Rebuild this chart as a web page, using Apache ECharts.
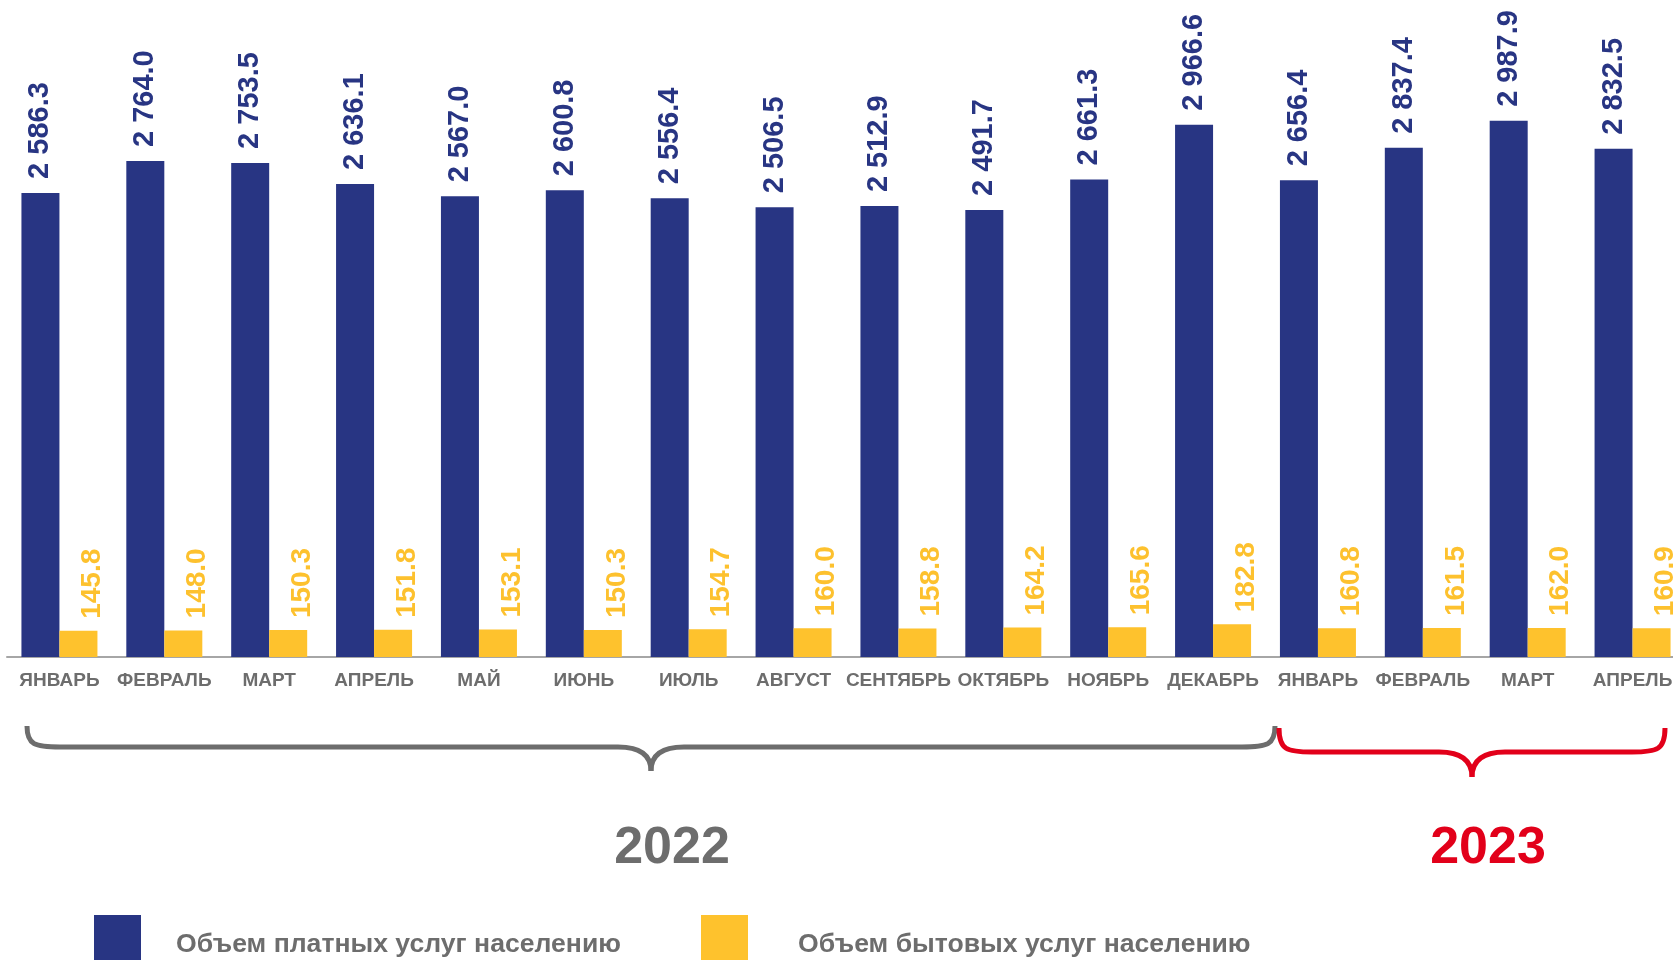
<!DOCTYPE html>
<html>
<head>
<meta charset="utf-8">
<script src="https://cdn.jsdelivr.net/npm/echarts@6/dist/echarts.min.js"></script>
<style>
  html, body { margin: 0; padding: 0; background: #fff; }
  #chart { width: 1673px; height: 960px; }
</style>
</head>
<body>
<div id="chart"></div>
<script>
// months (2022: Jan..Dec, 2023: Jan..Apr)
var months = ['ЯНВАРЬ', 'ФЕВРАЛЬ', 'МАРТ', 'АПРЕЛЬ', 'МАЙ', 'ИЮНЬ', 'ИЮЛЬ', 'АВГУСТ',
  'СЕНТЯБРЬ', 'ОКТЯБРЬ', 'НОЯБРЬ', 'ДЕКАБРЬ', 'ЯНВАРЬ', 'ФЕВРАЛЬ', 'МАРТ', 'АПРЕЛЬ'];
var paidServices = [2586.3, 2764.0, 2753.5, 2636.1, 2567.0, 2600.8, 2556.4, 2506.5,
  2512.9, 2491.7, 2661.3, 2966.6, 2656.4, 2837.4, 2987.9, 2832.5];
var householdServices = [145.8, 148.0, 150.3, 151.8, 153.1, 150.3, 154.7, 160.0,
  158.8, 164.2, 165.6, 182.8, 160.8, 161.5, 162.0, 160.9];
var seriesNames = ['Объем платных услуг населению', 'Объем бытовых услуг населению'];
var years = ['2022', '2023'];

var FONT = 'Arial, "Liberation Sans", sans-serif';
var BLUE = '#283583';
var YELLOW = '#fec22d';
var GREY = '#6d6d6d';
var RED = '#e2001a';

function fmt(v) {
  var s = v.toFixed(1).split('.');
  return s[0].replace(/\B(?=(\d{3})+(?!\d))/g, ' ') + '.' + s[1];
}

// curly brace under a group of months: x1..x2, ends at yTop, bar at yMid, tip at yTip
function brace(x1, x2, yTop, yMid, yTip, color) {
  var xm = (x1 + x2) / 2, r = 33;
  var st = { stroke: color, lineWidth: 5, fill: null };
  return [
    { type: 'bezierCurve', shape: { x1: x1, y1: yTop, cpx1: x1, cpy1: yMid - 2, cpx2: x1 + 8, cpy2: yMid, x2: x1 + r, y2: yMid }, style: st },
    { type: 'line', shape: { x1: x1 + r, y1: yMid, x2: xm - r, y2: yMid }, style: st },
    { type: 'bezierCurve', shape: { x1: xm - r, y1: yMid, cpx1: xm - 11, cpy1: yMid, cpx2: xm, cpy2: yMid + 8, x2: xm, y2: yTip }, style: st },
    { type: 'bezierCurve', shape: { x1: xm, y1: yTip, cpx1: xm, cpy1: yMid + 8, cpx2: xm + 11, cpy2: yMid, x2: xm + r, y2: yMid }, style: st },
    { type: 'line', shape: { x1: xm + r, y1: yMid, x2: x2 - r, y2: yMid }, style: st },
    { type: 'bezierCurve', shape: { x1: x2 - r, y1: yMid, cpx1: x2 - 8, cpy1: yMid, cpx2: x2, cpy2: yMid - 2, x2: x2, y2: yTop }, style: st }
  ];
}

var chart = echarts.init(document.getElementById('chart'));

var options = {
  animation: false,
  textStyle: { fontFamily: FONT },
  grid: { left: 7, width: 1678, top: 11, bottom: 303, containLabel: false, outerBoundsMode: 'none' },
  legend: [
    {
      data: [seriesNames[0]],
      left: 94, top: 915, padding: 0,
      icon: 'rect', itemWidth: 47, itemHeight: 60, itemGap: 0,
      textStyle: { fontFamily: FONT, fontSize: 26.6, fontWeight: 'bold', color: GREY, padding: [0, 0, 0, 30] }
    },
    {
      data: [seriesNames[1]],
      left: 701, top: 915, padding: 0,
      icon: 'rect', itemWidth: 47, itemHeight: 60, itemGap: 0,
      textStyle: { fontFamily: FONT, fontSize: 26.6, fontWeight: 'bold', color: GREY, padding: [0, 0, 0, 45] }
    }
  ],
  xAxis: {
    type: 'category',
    data: months,
    axisTick: { show: false },
    axisLine: { lineStyle: { color: '#a6a6a6', width: 2 } },
    axisLabel: {
      interval: 0, margin: 14,
      fontFamily: FONT, fontSize: 19, fontWeight: 'bold', color: GREY
    }
  },
  yAxis: {
    type: 'value',
    min: 0, max: 3600,
    show: false,
    splitLine: { show: false }
  },
  series: [
    {
      name: seriesNames[0],
      type: 'bar',
      data: paidServices,
      barWidth: 38,
      barGap: '0%',
      itemStyle: { color: BLUE },
      label: {
        show: true, position: 'top', rotate: 90, distance: 14,
        align: 'left', verticalAlign: 'middle',
        fontFamily: FONT, fontSize: 29, fontWeight: 'bold', color: BLUE,
        formatter: function (p) { return fmt(p.value); }
      }
    },
    {
      name: seriesNames[1],
      type: 'bar',
      data: householdServices,
      barWidth: 38,
      barGap: '0%',
      itemStyle: { color: YELLOW },
      label: {
        show: true, position: 'top', rotate: 90, distance: 12,
        align: 'left', verticalAlign: 'middle', offset: [0, 14],
        fontFamily: FONT, fontSize: 28, fontWeight: 'bold', color: '#fdc12e',
        formatter: function (p) { return fmt(p.value); }
      }
    }
  ],
  graphic: brace(27, 1275, 726, 747, 771, GREY)
    .concat(brace(1279, 1665, 728, 752, 777, RED))
    .concat([
      {
        type: 'text', x: 672, y: 849,
        style: { text: years[0], fontFamily: FONT, fontSize: 52, fontWeight: 'bold', fill: GREY, align: 'center', verticalAlign: 'middle' }
      },
      {
        type: 'text', x: 1488, y: 849,
        style: { text: years[1], fontFamily: FONT, fontSize: 52, fontWeight: 'bold', fill: RED, align: 'center', verticalAlign: 'middle' }
      }
    ])
};

chart.setOption(options);
</script>
</body>
</html>
